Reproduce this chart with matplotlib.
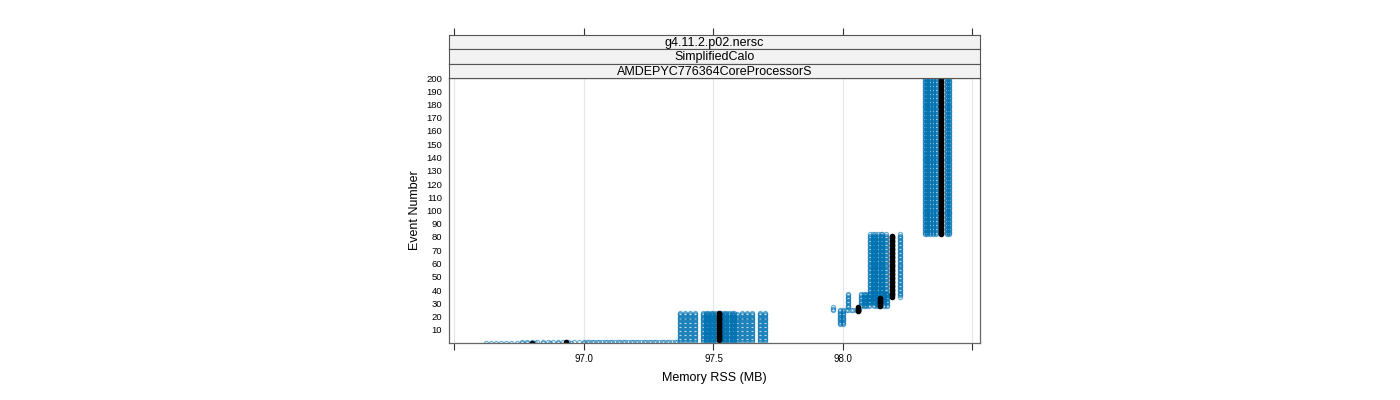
import matplotlib.pyplot as plt

plt.rcParams['font.family'] = ['Liberation Sans', 'DejaVu Sans']

strip_labels = ['g4.11.2.p02.nersc', 'SimplifiedCalo', 'AMDEPYC776364CoreProcessorS']

# blue columns: (memory rss, first event, last event)
blue_cols = [
    (97.37, 1, 23), (97.39, 1, 23), (97.41, 1, 23), (97.43, 1, 23),
    (97.46, 1, 23), (97.47, 1, 23), (97.48, 1, 23), (97.49, 1, 23),
    (97.50, 1, 23), (97.51, 1, 23), (97.53, 1, 23), (97.54, 1, 23),
    (97.55, 1, 23), (97.56, 1, 23), (97.57, 1, 23), (97.58, 1, 23),
    (97.59, 1, 22), (97.61, 1, 23), (97.63, 1, 23), (97.65, 1, 23),
    (97.68, 1, 23), (97.70, 1, 23),
    (97.96, 25, 27), (97.99, 14, 25), (98.00, 14, 25), (98.02, 27, 37),
    (98.07, 28, 37), (98.08, 28, 37), (98.09, 28, 37), (98.10, 28, 37),
    (98.12, 28, 37), (98.13, 28, 37), (98.14, 28, 36), (98.16, 28, 37),
    (98.17, 28, 37),
    (98.105, 31, 82), (98.115, 31, 82), (98.125, 31, 82), (98.135, 31, 82),
    (98.145, 31, 82), (98.15, 31, 82), (98.167, 35, 82), (98.222, 35, 82),
    (98.315, 82, 200), (98.325, 82, 200), (98.335, 82, 200), (98.348, 82, 200),
    (98.358, 82, 200), (98.40, 82, 200), (98.41, 82, 200),
]

# single blue points near the start of the runs
ev0_rss = [96.62, 96.64, 96.66, 96.68, 96.70, 96.72, 96.74, 96.76, 96.78,
           96.81, 96.84, 96.87, 96.90, 96.95, 97.00]
ev1_rss = [96.76, 96.78, 96.80, 96.82, 96.84, 96.86, 96.88, 96.90, 96.92,
           96.94, 96.96, 96.98, 97.00, 97.01, 97.02, 97.03, 97.04, 97.05,
           97.06, 97.07, 97.08, 97.09, 97.10, 97.11, 97.12, 97.13, 97.14,
           97.15, 97.16, 97.17, 97.18, 97.19, 97.20, 97.21, 97.22, 97.23,
           97.24, 97.25, 97.26, 97.27, 97.28, 97.29, 97.30, 97.31, 97.32,
           97.33, 97.34, 97.35, 97.36]
ev25_rss = [98.01, 98.02, 98.03, 98.04, 98.05, 98.06]

# black reference run: (memory rss, first event, last event)
black_cols = [(96.80, 0, 0), (96.93, 1, 1), (97.52, 2, 23), (98.058, 24, 27),
              (98.143, 28, 34), (98.19, 35, 81), (98.38, 82, 200)]

x_ticks = [96.5, 97.0, 97.5, 98.0, 98.5]
x_labels = ['', '97.0', '97.5', '98.0', '']
y_ticks = list(range(10, 201, 10))

fig = plt.figure(figsize=(14, 4), dpi=100)
ax = fig.add_axes([449 / 1400, 1 - 343 / 400, 531 / 1400, 265 / 400])

bx = ev0_rss + ev1_rss + ev25_rss
by = [0] * len(ev0_rss) + [1] * len(ev1_rss) + [25] * len(ev25_rss)
for rss, a, b in blue_cols:
    for e in range(a, b + 1):
        bx.append(rss)
        by.append(e)
ax.plot(bx, by, 'o', ms=3.0, mfc='none', mec='#0072B2', mew=0.9, alpha=0.55)

kx, ky = [], []
for rss, a, b in black_cols:
    for e in range(a, b + 1):
        kx.append(rss)
        ky.append(e)
ax.plot(kx, ky, 'o', ms=3.0, color='black', mec='black')

ax.set_xlim(96.479, 98.529)
ax.set_ylim(0, 200)
for v in x_ticks:
    ax.axvline(v, color='#e6e6e6', lw=0.8, zorder=0)
ax.set_xticks(x_ticks)
ax.set_xticklabels(x_labels, fontsize=7)
ax.tick_params(axis='x', direction='out', length=5, width=0.8, color='#333333', pad=3)
ax.set_yticks(y_ticks)
ax.set_yticklabels([str(v) for v in y_ticks], fontsize=6.8)
ax.tick_params(axis='y', length=0, pad=5)
for s in ax.spines.values():
    s.set_color('#666666')
    s.set_linewidth(0.9)
ax.set_xlabel('Memory RSS (MB)', fontsize=9, labelpad=6)
ax.set_ylabel('Event Number', fontsize=9, labelpad=4)

strip_h = 43 / 3
for i, lab in enumerate(strip_labels):
    top = 35 + i * strip_h
    sax = fig.add_axes([449 / 1400, 1 - (top + strip_h) / 400, 531 / 1400, strip_h / 400])
    sax.set_facecolor('#f2f2f2')
    sax.set_xlim(96.479, 98.529)
    sax.set_ylim(0, 1)
    sax.text(0.5, 0.45, lab, transform=sax.transAxes, ha='center', va='center', fontsize=9)
    sax.set_yticks([])
    for s in sax.spines.values():
        s.set_color('#555555')
        s.set_linewidth(0.8)
    if i == 0:
        sax.xaxis.tick_top()
        sax.set_xticks(x_ticks)
        sax.set_xticklabels([])
        sax.tick_params(axis='x', direction='out', length=5, width=0.8, color='#333333')
    else:
        sax.set_xticks([])

fig.savefig('out.png', dpi=100)
